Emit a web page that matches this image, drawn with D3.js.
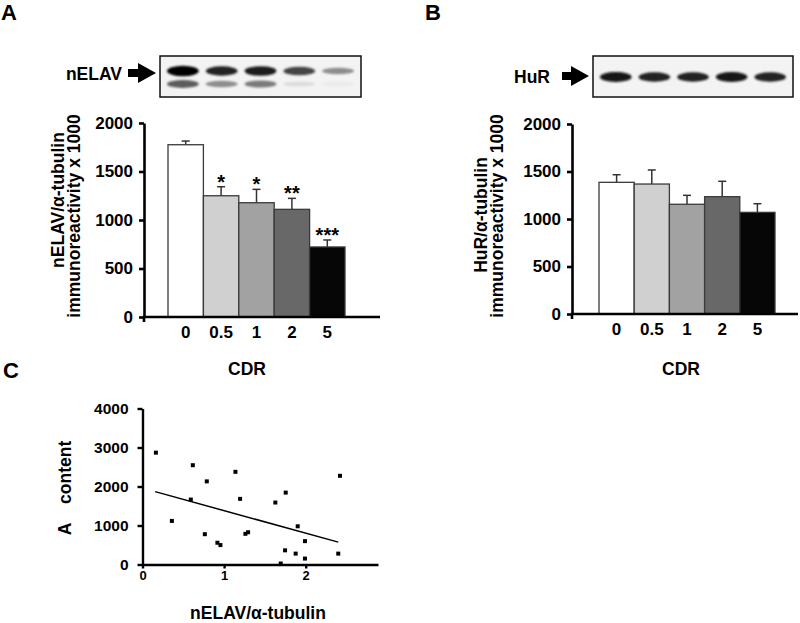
<!DOCTYPE html>
<html><head><meta charset="utf-8">
<script src="https://cdn.jsdelivr.net/npm/d3@7"></script>
<style>
body{margin:0;background:#fff;}
svg{display:block;font-family:"Liberation Sans",Arial,Helvetica,sans-serif;font-weight:bold;}
</style></head><body>
<svg id="chart" width="800" height="623"></svg>
<script>
// ---------- data ----------
const cdrLevels = ["0", "0.5", "1", "2", "5"];
const nelavMeans = [1776, 1250, 1178, 1110, 722];
const nelavErrors = [38, 93, 138, 113, 72];
const nelavStars = ["", "*", "*", "**", "***"];
const hurMeans = [1386, 1368, 1155, 1235, 1070];
const hurErrors = [80, 148, 94, 162, 91];
const barFills = ["#ffffff", "#d0d0d0", "#a2a2a2", "#686868", "#060606"];
const barYTicks = [0, 500, 1000, 1500, 2000];
// blot band intensities (0..1) per lane
const nelavUpperBand = [1.0, 0.85, 0.88, 0.72, 0.42];
const nelavLowerBand = [0.62, 0.42, 0.5, 0.1, 0.04];
const hurBand = [0.92, 0.86, 0.86, 0.9, 0.86];
// scatter (panel C)
const scatterX = [0.164, 0.617, 0.788, 1.139, 2.42, 0.592, 1.196, 1.755, 1.628, 0.36, 0.764, 0.918, 0.955, 1.261, 1.294, 1.902, 1.991, 1.747, 1.877, 1.991, 2.399, 1.694];
const scatterY = [2868, 2546, 2132, 2376, 2274, 1665, 1683, 1843, 1589, 1117, 777, 558, 498, 787, 827, 980, 599, 363, 279, 152, 279, 25];
const fitX = [0.155, 2.399];
const fitY = [1868, 574];
const scatterXTicks = [0, 1, 2];
const scatterYTicks = [0, 1000, 2000, 3000, 4000];

// ---------- drawing ----------
const svg = d3.select("#chart");
svg.append("rect").attr("width", 800).attr("height", 623).attr("fill", "#fff");

const defs = svg.append("defs");
defs.append("filter").attr("id", "blur").attr("x", "-20%").attr("y", "-80%").attr("width", "140%").attr("height", "260%")
  .append("feGaussianBlur").attr("stdDeviation", 1.3);

function panelLetter(t, x, y) {
  svg.append("text").attr("x", x).attr("y", y).attr("font-size", 22).text(t);
}
panelLetter("A", 1, 20);
panelLetter("B", 425, 20);
panelLetter("C", 3, 378);

function arrow(x0, x1, yc) {
  const p = d3.path();
  const headStart = x1 - 18;
  p.moveTo(x0, yc - 4); p.lineTo(headStart, yc - 4); p.lineTo(headStart, yc - 10);
  p.lineTo(x1, yc); p.lineTo(headStart, yc + 10); p.lineTo(headStart, yc + 4);
  p.lineTo(x0, yc + 4); p.closePath();
  svg.append("path").attr("d", p.toString()).attr("fill", "#000");
}

function blot(x0, x1, y0, y1, bandsList, label, labelX, arrowX0, arrowX1, arrowY) {
  const g = svg.append("g");
  g.append("rect").attr("x", x0).attr("y", y0).attr("width", x1 - x0).attr("height", y1 - y0)
    .attr("fill", "#f3f3f3").attr("stroke", "#111").attr("stroke-width", 1.5);
  const lane = d3.scaleBand().domain(cdrLevels).range([x0, x1]).padding(0.18);
  const shade = d3.scaleLinear().domain([0, 1]).range(["#f3f3f3", "#000"]);
  bandsList.forEach(b => {
    g.selectAll(null).data(b.values).enter().append("ellipse")
      .attr("cx", (d, i) => lane(cdrLevels[i]) + lane.bandwidth() / 2)
      .attr("cy", b.y)
      .attr("rx", lane.bandwidth() / 2)
      .attr("ry", d => 2 + 3.2 * d)
      .attr("fill", d => shade(d))
      .attr("filter", "url(#blur)");
  });
  svg.append("text").attr("x", labelX).attr("y", arrowY + 7).attr("text-anchor", "end")
    .attr("font-size", 17.5).text(label);
  arrow(arrowX0, arrowX1, arrowY);
}

blot(160, 361, 56, 97, [{values: nelavUpperBand, y: 71}, {values: nelavLowerBand, y: 84}],
  "nELAV", 122, 128, 156, 73);
blot(593, 793, 56, 97, [{values: hurBand, y: 77}], "HuR", 550, 562, 589, 76);

function styleAxis(a, fs, sw) {
  a.attr("font-family", null).attr("font-size", null);
  a.select(".domain").attr("stroke", "#000").attr("stroke-width", sw);
  a.selectAll(".tick line").attr("stroke", "#000").attr("stroke-width", sw);
  a.selectAll("text").attr("font-size", fs).attr("font-weight", "bold").attr("fill", "#000");
}

function barPanel(cfg) {
  const g = svg.append("g");
  const y = d3.scaleLinear().domain([0, 2000]).range([cfg.y0, cfg.y1]);
  const x = d3.scaleBand().domain(cdrLevels).range(cfg.barRange).padding(0);
  // error bars
  const eb = g.selectAll(".eb").data(cdrLevels).enter().append("g");
  eb.append("line")
    .attr("x1", d => x(d) + x.bandwidth() / 2).attr("x2", d => x(d) + x.bandwidth() / 2)
    .attr("y1", (d, i) => y(cfg.means[i])).attr("y2", (d, i) => y(cfg.means[i] + cfg.errors[i]))
    .attr("stroke", "#333").attr("stroke-width", 1.5);
  eb.append("line")
    .attr("x1", d => x(d) + x.bandwidth() / 2 - 4).attr("x2", d => x(d) + x.bandwidth() / 2 + 4)
    .attr("y1", (d, i) => y(cfg.means[i] + cfg.errors[i])).attr("y2", (d, i) => y(cfg.means[i] + cfg.errors[i]))
    .attr("stroke", "#333").attr("stroke-width", 1.5);
  // bars
  g.selectAll(".bar").data(cdrLevels).enter().append("rect")
    .attr("x", d => x(d)).attr("width", x.bandwidth())
    .attr("y", (d, i) => y(cfg.means[i])).attr("height", (d, i) => y(0) - y(cfg.means[i]))
    .attr("fill", (d, i) => barFills[i]).attr("stroke", "#3a3a3a").attr("stroke-width", 1.3);
  // stars
  if (cfg.stars) {
    g.selectAll(".star").data(cdrLevels).enter().append("text")
      .attr("x", d => x(d) + x.bandwidth() / 2)
      .attr("y", (d, i) => y(cfg.means[i] + cfg.errors[i]) + 2)
      .attr("text-anchor", "middle").attr("font-size", 20)
      .text((d, i) => cfg.stars[i]);
  }
  // y axis
  const ya = g.append("g").attr("transform", `translate(${cfg.axisX},0)`)
    .call(d3.axisLeft(y).tickValues(barYTicks).tickSize(5).tickSizeOuter(0).tickPadding(6).tickFormat(d3.format("d")));
  styleAxis(ya, 17, 2.6);
  // x axis line
  g.append("line").attr("x1", cfg.axisX - 1.3).attr("x2", cfg.axisEnd)
    .attr("y1", y(0)).attr("y2", y(0)).attr("stroke", "#000").attr("stroke-width", 2.6);
  g.append("line").attr("x1", cfg.axisX).attr("x2", cfg.axisX)
    .attr("y1", y(0)).attr("y2", y(0) + 5).attr("stroke", "#000").attr("stroke-width", 2.6);
  // x tick labels
  const xa = g.append("g").attr("transform", `translate(0,${y(0)})`)
    .call(d3.axisBottom(x).tickSize(0).tickPadding(9));
  xa.select(".domain").remove();
  styleAxis(xa, 17, 0);
  // axis titles
  g.append("text").attr("x", cfg.cdrX).attr("y", 375).attr("text-anchor", "middle").attr("font-size", 17.5).text("CDR");
  cfg.ylabels.forEach(l => {
    g.append("text").attr("transform", `translate(${l.x},${l.cy}) rotate(-90)`)
      .attr("text-anchor", "middle").attr("font-size", 17.5).text(l.t);
  });
}

barPanel({
  means: nelavMeans, errors: nelavErrors, stars: nelavStars,
  y0: 317, y1: 123, barRange: [168, 345], axisX: 144, axisEnd: 380, cdrX: 247,
  ylabels: [{t: "nELAV/\u03b1-tubulin", x: 64, cy: 200}, {t: "immunoreactivity x 1000", x: 80, cy: 216}]
});
barPanel({
  means: hurMeans, errors: hurErrors, stars: null,
  y0: 314, y1: 124, barRange: [599, 775], axisX: 572, axisEnd: 798, cdrX: 681,
  ylabels: [{t: "HuR/\u03b1-tubulin", x: 487, cy: 215}, {t: "immunoreactivity x 1000", x: 503, cy: 216}]
});

// ---------- panel C scatter ----------
(function () {
  const g = svg.append("g");
  const x = d3.scaleLinear().domain([0, 2.886]).range([142.5, 378]);
  const y = d3.scaleLinear().domain([0, 4000]).range([564.5, 408.5]);
  const ya = g.append("g").attr("transform", `translate(${x(0)},0)`)
    .call(d3.axisLeft(y).tickValues(scatterYTicks).tickSize(5).tickSizeOuter(0).tickPadding(9).tickFormat(d3.format("d")));
  styleAxis(ya, 15.5, 2.4);
  const xa = g.append("g").attr("transform", `translate(0,${y(0)})`)
    .call(d3.axisBottom(x).tickValues(scatterXTicks).tickSize(4).tickSizeOuter(0).tickPadding(2).tickFormat(d3.format("d")));
  styleAxis(xa, 13, 2.4);
  // fit line
  g.append("line").attr("x1", x(fitX[0])).attr("y1", y(fitY[0])).attr("x2", x(fitX[1])).attr("y2", y(fitY[1]))
    .attr("stroke", "#000").attr("stroke-width", 1.5);
  // points
  g.selectAll(".pt").data(scatterX).enter().append("rect")
    .attr("x", (d) => x(d) - 2).attr("y", (d, i) => y(scatterY[i]) - 2)
    .attr("width", 4).attr("height", 4).attr("fill", "#000");
  // titles
  g.append("text").attr("x", 258).attr("y", 619).attr("text-anchor", "middle").attr("font-size", 17.5)
    .text("nELAV/\u03b1-tubulin");
  g.append("text").attr("transform", "translate(71,488) rotate(-90)").attr("text-anchor", "middle")
    .attr("font-size", 17.5).style("white-space", "pre").text("A    content");
})();
</script>
</body></html>
